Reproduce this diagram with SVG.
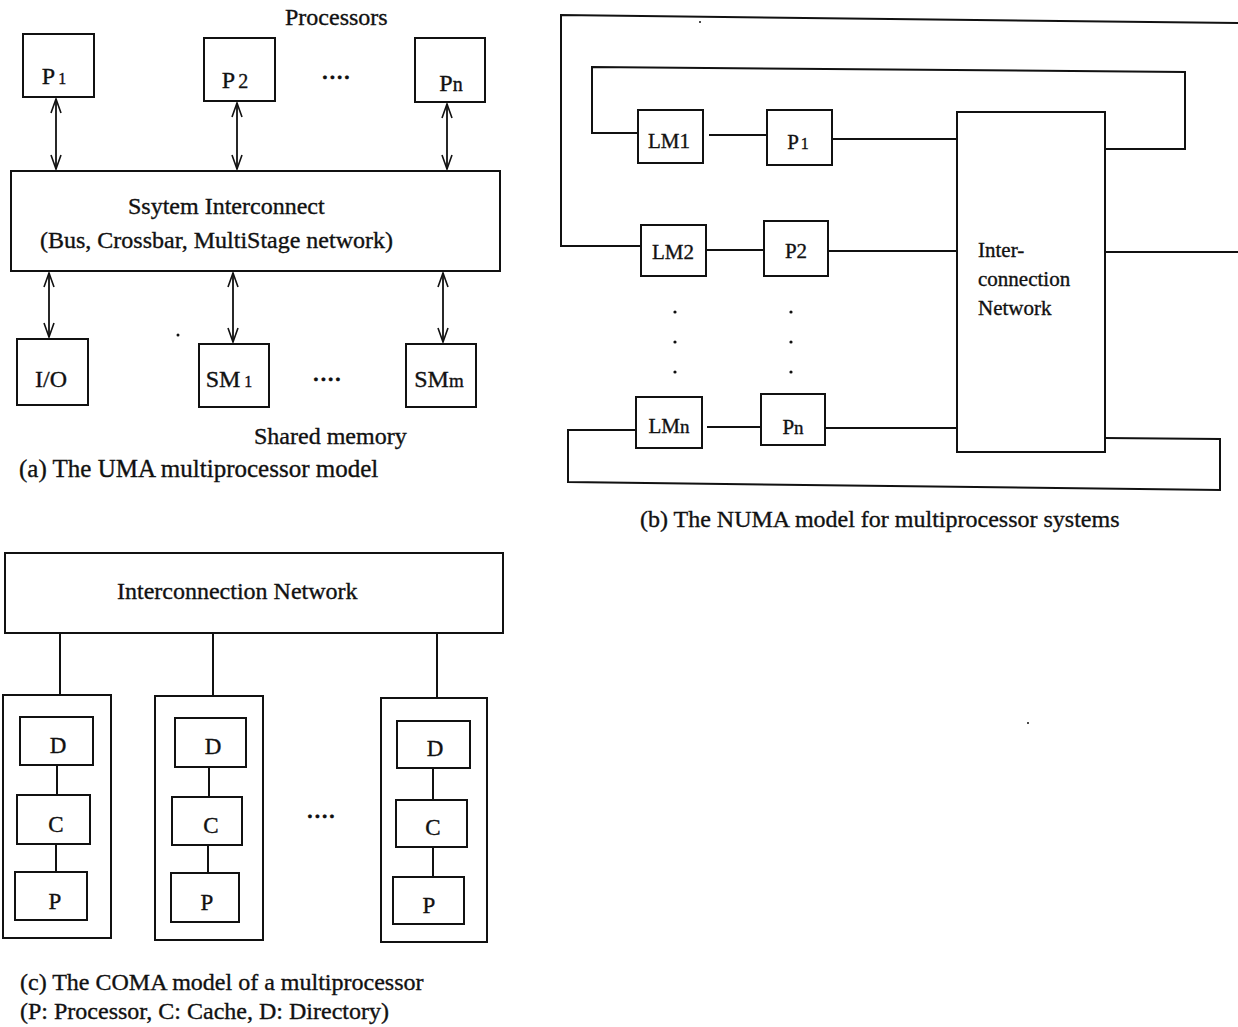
<svg xmlns="http://www.w3.org/2000/svg" width="1238" height="1027" viewBox="0 0 1238 1027">
  <style>
    text { font-family: "Liberation Serif", "Times New Roman", serif; fill: #111; stroke: #111; stroke-width: 0.35; }
    .t24 { font-size: 24px; }
    .t25 { font-size: 25px; }
    .lbl { font-size: 24px; text-anchor: middle; }
    .cl { font-size: 23px; text-anchor: middle; }
    .sm { font-size: 21px; text-anchor: middle; }
    .in { font-size: 21px; }
    .box { fill: none; stroke: #111; stroke-width: 2; }
    .wire { fill: none; stroke: #111; stroke-width: 2; }
    .arr { fill: none; stroke: #111; stroke-width: 1.8; marker-start: url(#ah); marker-end: url(#ah); }
    .dots { font-size: 22px; font-weight: bold; text-anchor: middle; }
  </style>
  <defs>
    <marker id="ah" viewBox="0 0 16 12" refX="15" refY="6" markerWidth="16" markerHeight="12" markerUnits="userSpaceOnUse" orient="auto-start-reverse">
      <path d="M1,1 L15,6 L1,11" fill="none" stroke="#111" stroke-width="1.6"/>
    </marker>
  </defs>
  <rect width="1238" height="1027" fill="#fff"/>

  <!-- (a) UMA -->
  <g id="uma">
    <text class="t24" x="285" y="25">Processors</text>
    <g id="uma-p1"><rect class="box" x="23" y="34" width="71" height="63"/><text class="lbl" x="54" y="84">P<tspan font-size="16" dx="3">1</tspan></text></g>
    <g id="uma-p2"><rect class="box" x="204" y="38" width="71" height="63"/><text class="lbl" x="235" y="88">P<tspan font-size="20" dx="3">2</tspan></text></g>
    <text class="dots" x="336" y="84">····</text>
    <g id="uma-pn"><rect class="box" x="415" y="38" width="70" height="64"/><text class="lbl" x="451" y="91">P<tspan font-size="20">n</tspan></text></g>
    <g id="uma-sys"><rect class="box" x="11" y="171" width="489" height="100"/>
      <text class="t24" x="128" y="214">Ssytem Interconnect</text>
      <text class="t24" x="40" y="248">(Bus, Crossbar, MultiStage network)</text></g>
    <g id="uma-io"><rect class="box" x="17" y="339" width="71" height="66"/><text class="lbl" x="51" y="387">I/O</text></g>
    <g id="uma-sm1"><rect class="box" x="199" y="344" width="70" height="63"/><text class="lbl" x="229" y="387">SM<tspan font-size="16" dx="4">1</tspan></text></g>
    <text class="dots" x="327" y="386">····</text>
    <g id="uma-smm"><rect class="box" x="406" y="344" width="70" height="63"/><text class="lbl" x="439" y="387">SM<tspan font-size="19">m</tspan></text></g>
    <circle cx="178" cy="335" r="1.5" fill="#111"/>
    <text class="t24" x="254" y="444">Shared memory</text>
    <text class="t25" x="19" y="477">(a) The UMA multiprocessor model</text>
  </g>

  <!-- (b) NUMA -->
  <g id="numa">
    <g id="numa-lm1"><rect class="box" x="638" y="110" width="65" height="53"/><text class="sm" x="669" y="148">LM1</text></g>
    <g id="numa-p1"><rect class="box" x="767" y="110" width="65" height="55"/><text class="sm" x="798" y="149">P<tspan font-size="16" dx="2">1</tspan></text></g>
    <g id="numa-lm2"><rect class="box" x="641" y="225" width="65" height="51"/><text class="sm" x="673" y="259">LM2</text></g>
    <g id="numa-p2"><rect class="box" x="764" y="221" width="64" height="55"/><text class="sm" x="796" y="258">P2</text></g>
    <g id="numa-lmn"><rect class="box" x="636" y="397" width="66" height="51"/><text class="sm" x="669" y="433">LM<tspan font-size="19">n</tspan></text></g>
    <g id="numa-pn"><rect class="box" x="761" y="394" width="64" height="51"/><text class="sm" x="793" y="434">P<tspan font-size="19">n</tspan></text></g>
    <g id="numa-net"><rect class="box" x="957" y="112" width="148" height="340"/>
      <text class="in" x="978" y="257">Inter-</text>
      <text class="in" x="978" y="286">connection</text>
      <text class="in" x="978" y="315">Network</text></g>
    <g id="numa-dots" fill="#111">
      <circle cx="675" cy="312" r="1.6"/><circle cx="675" cy="342" r="1.6"/><circle cx="675" cy="372" r="1.6"/>
      <circle cx="791" cy="312" r="1.6"/><circle cx="791" cy="342" r="1.6"/><circle cx="791" cy="372" r="1.6"/>
    </g>
    <circle cx="700" cy="22" r="1" fill="#111"/>
    <text class="t24" x="640" y="527">(b) The NUMA model for multiprocessor systems</text>
  </g>

  <!-- (c) COMA -->
  <g id="coma">
    <g id="coma-net"><rect class="box" x="5" y="553" width="498" height="80"/><text class="t24" x="117" y="599">Interconnection Network</text></g>
    <g id="coma-node1"><rect class="box" x="3" y="695" width="108" height="243"/>
      <rect class="box" x="20" y="717" width="73" height="48"/><text class="cl" x="58" y="753">D</text>
      <rect class="box" x="17" y="795" width="73" height="49"/><text class="cl" x="56" y="832">C</text>
      <rect class="box" x="15" y="872" width="72" height="48"/><text class="cl" x="55" y="909">P</text></g>
    <g id="coma-node2"><rect class="box" x="155" y="696" width="108" height="244"/>
      <rect class="box" x="175" y="718" width="71" height="49"/><text class="cl" x="213" y="754">D</text>
      <rect class="box" x="172" y="797" width="70" height="48"/><text class="cl" x="211" y="833">C</text>
      <rect class="box" x="171" y="873" width="68" height="49"/><text class="cl" x="207" y="910">P</text></g>
    <text class="dots" x="321" y="823">····</text>
    <g id="coma-node3"><rect class="box" x="381" y="698" width="106" height="244"/>
      <rect class="box" x="397" y="721" width="73" height="47"/><text class="cl" x="435" y="756">D</text>
      <rect class="box" x="396" y="800" width="71" height="47"/><text class="cl" x="433" y="835">C</text>
      <rect class="box" x="393" y="877" width="71" height="47"/><text class="cl" x="429" y="913">P</text></g>
    <circle cx="1028" cy="723" r="1" fill="#111"/>
    <text class="t24" x="20" y="990">(c) The COMA model of a multiprocessor</text>
    <text class="t24" x="20" y="1019">(P: Processor, C: Cache, D: Directory)</text>
  </g>

  <!-- connectors -->
  <g id="connectors">
    <line class="arr" x1="56" y1="99" x2="56" y2="169"/>
    <line class="arr" x1="237" y1="103" x2="237" y2="169"/>
    <line class="arr" x1="447" y1="104" x2="447" y2="169"/>
    <line class="arr" x1="49" y1="273" x2="49" y2="337"/>
    <line class="arr" x1="233" y1="273" x2="233" y2="342"/>
    <line class="arr" x1="443" y1="273" x2="443" y2="342"/>

    <polyline class="wire" points="1238,23 561,15 561,246 641,246"/>
    <polyline class="wire" points="638,133 592,133 592,67 1185,72 1185,149 1105,149"/>
    <line class="wire" x1="709" y1="135" x2="767" y2="135"/>
    <line class="wire" x1="832" y1="139" x2="957" y2="139"/>
    <line class="wire" x1="706" y1="250" x2="764" y2="250"/>
    <line class="wire" x1="828" y1="251" x2="957" y2="251"/>
    <line class="wire" x1="1105" y1="252" x2="1238" y2="252"/>
    <line class="wire" x1="707" y1="427" x2="761" y2="427"/>
    <line class="wire" x1="825" y1="428" x2="957" y2="428"/>
    <polyline class="wire" points="636,430 568,430 568,482 1220,490 1220,439 1105,438"/>

    <line class="wire" x1="60" y1="633" x2="60" y2="695"/>
    <line class="wire" x1="213" y1="633" x2="213" y2="696"/>
    <line class="wire" x1="437" y1="633" x2="437" y2="698"/>
    <line class="wire" x1="57" y1="765" x2="57" y2="795"/>
    <line class="wire" x1="209" y1="767" x2="209" y2="797"/>
    <line class="wire" x1="433" y1="768" x2="433" y2="800"/>
    <line class="wire" x1="56" y1="844" x2="56" y2="872"/>
    <line class="wire" x1="208" y1="845" x2="208" y2="873"/>
    <line class="wire" x1="433" y1="847" x2="433" y2="877"/>
  </g>
</svg>
